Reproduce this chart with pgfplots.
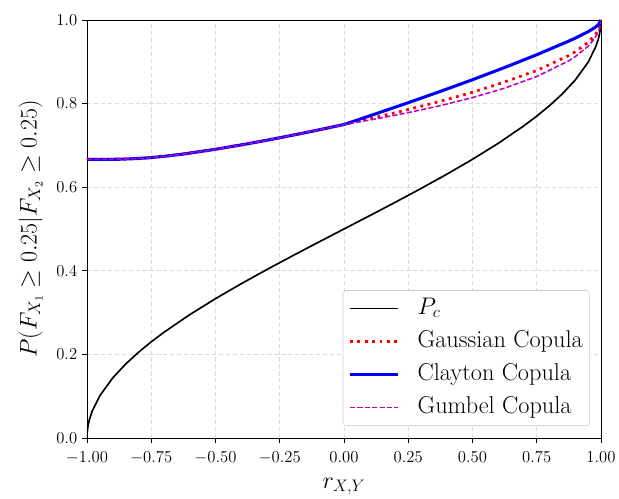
\documentclass[border=0pt]{standalone}
\usepackage{fontspec}
\usepackage{pgfplots}
\pgfplotsset{compat=1.18}
\definecolor{mplm}{rgb}{0.75,0,0.75}
\begin{document}
\begin{tikzpicture}
\path[use as bounding box] (-62.6pt,-43.2pt) rectangle (383.1pt,315.4pt);
\begin{axis}[
  scale only axis, width=370.1pt, height=301pt,
  at={(0,0)}, anchor=south west,
  xmin=-1, xmax=1, ymin=0, ymax=1,
  xtick={-1,-0.75,-0.5,-0.25,0,0.25,0.5,0.75,1},
  ytick={0,0.2,0.4,0.6,0.8,1},
  ticklabel style={font=\fontsize{13.2}{16}\selectfont},
  xticklabel style={yshift=-3pt, /pgf/number format/.cd, fixed, fixed zerofill, precision=2},
  yticklabel style={/pgf/number format/.cd, fixed, fixed zerofill, precision=1},
  label style={font=\fontsize{16.5}{20}\selectfont},
  xlabel style={yshift=-3pt},
  ylabel shift=3pt,
  tick pos=left, tick align=outside, major tick length=3.5pt,
  tick style={black, line width=0.6pt},
  axis line style={line width=0.6pt},
  grid=major,
  major grid style={dash pattern=on 3pt off 2pt, line width=0.6pt, color=black!14},
  xlabel={$r_{X,Y}$},
  ylabel={$P(F_{X_1} \geq 0.25 | F_{X_2} \geq 0.25)$},
  legend cell align=left,
  legend image code/.code={\draw[#1] (0pt,0pt) -- (34.5pt,0pt);},
  legend style={at={(0.9786,0.0287)}, anchor=south east, draw=black!20,
    rounded corners=2.5pt, fill=white,
    font=\fontsize{17.5}{21}\selectfont, row sep=3.8pt,
    inner xsep=4pt, inner ysep=3pt,
    nodes={text height=12pt, text depth=4pt, inner ysep=2pt, inner xsep=1pt},
    /tikz/every odd column/.append style={column sep=12pt}},
]
\addplot[black, line width=1.2pt] coordinates {
(-1,0) (-0.9999,0.0045) (-0.999,0.01424) (-0.995,0.03184) (-0.99,0.04506) (-0.98,0.06377)
(-0.95,0.10108) (-0.9,0.14357) (-0.85,0.17660) (-0.8,0.20483) (-0.75,0.23005) (-0.7,0.25318)
(-0.6,0.29517) (-0.5,0.33333) (-0.4,0.36901) (-0.3,0.40301) (-0.2,0.43591) (-0.1,0.46812)
(0,0.5) (0.1,0.53188) (0.2,0.56409) (0.3,0.59699) (0.4,0.63099) (0.5,0.66667)
(0.6,0.70483) (0.7,0.74682) (0.75,0.76995) (0.8,0.79517) (0.85,0.82340) (0.9,0.85643)
(0.95,0.89892) (0.98,0.93623) (0.99,0.95494) (0.995,0.96816) (0.999,0.98576) (0.9999,0.9955) (1,1)
};
\addlegendentry{$P_c$}
\addplot[red, line width=2pt, dash pattern=on 2pt off 3.3pt] coordinates {
(-1,0.66667) (-0.95,0.66667) (-0.9,0.6668) (-0.875,0.6669) (-0.8,0.66872) (-0.75,0.67092)
(-0.7,0.6739) (-0.625,0.67937) (-0.5,0.69073) (-0.375,0.70385) (-0.25,0.71821) (-0.125,0.73364)
(0,0.75) (0.125,0.76733) (0.25,0.78575) (0.375,0.8056) (0.5,0.82704) (0.625,0.8517)
(0.75,0.87913) (0.875,0.91505) (0.9,0.92399) (0.95,0.94639) (0.975,0.96215) (0.99,0.97608)
(0.999,0.99244) (1,1)
};
\addlegendentry{Gaussian Copula}
\addplot[blue, line width=2.2pt] coordinates {
(-1,0.66667) (-0.95,0.66667) (-0.9,0.6668) (-0.875,0.6669) (-0.8,0.66872) (-0.75,0.67092)
(-0.7,0.6739) (-0.625,0.67937) (-0.5,0.69073) (-0.375,0.70385) (-0.25,0.71821) (-0.125,0.73364)
(0,0.75) (0.125,0.77579) (0.25,0.80212) (0.375,0.82919) (0.5,0.85714) (0.625,0.88624)
(0.75,0.91683) (0.875,0.94959) (0.9,0.95660) (0.95,0.97199) (0.975,0.98132) (0.99,0.98875) (1,1)
};
\addlegendentry{Clayton Copula}
\addplot[color=mplm, line width=1.1pt, dash pattern=on 3.7pt off 1.6pt] coordinates {
(-1,0.66667) (-0.95,0.66667) (-0.9,0.6668) (-0.875,0.6669) (-0.8,0.66872) (-0.75,0.67092)
(-0.7,0.6739) (-0.625,0.67937) (-0.5,0.69073) (-0.375,0.70385) (-0.25,0.71821) (-0.125,0.73364)
(0,0.75) (0.125,0.76341) (0.25,0.77834) (0.375,0.79511) (0.5,0.81432) (0.625,0.83688)
(0.75,0.86469) (0.875,0.90243) (0.9,0.91231) (0.95,0.93731) (0.975,0.95528) (0.99,0.97151)
(0.999,0.99093) (1,1)
};
\addlegendentry{Gumbel Copula}
\end{axis}
\end{tikzpicture}
\end{document}
